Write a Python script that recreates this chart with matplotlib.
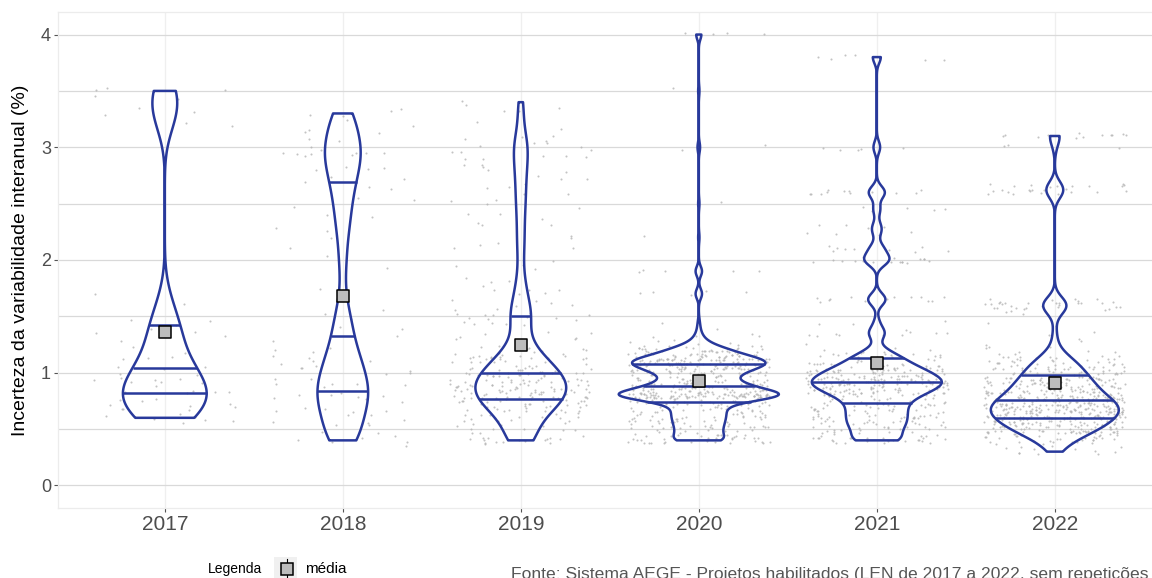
import matplotlib
matplotlib.use("Agg")
import matplotlib.pyplot as plt
import numpy as np
from matplotlib.lines import Line2D
from matplotlib.patches import Polygon, Rectangle

plt.rcParams["font.family"] = ["Liberation Sans", "DejaVu Sans"]

years = ["2017", "2018", "2019", "2020", "2021", "2022"]

# uncertainty values (%) and number of projects at each value, per year
vals_2017 = [0.6, 0.7, 0.8, 0.9, 1.0, 1.1, 1.2, 1.3, 1.4, 1.5, 1.6, 1.7,
             3.2, 3.3, 3.4, 3.5]
cnts_2017 = [7, 7, 8, 7, 5, 4, 2, 3, 3, 2, 1, 1,
             2, 2, 2, 4]

vals_2018 = [0.4, 0.5, 0.6, 0.7, 0.8, 0.9, 1.0, 1.1, 1.2, 1.3, 1.4, 1.5, 1.6, 1.7,
             1.9, 2.0, 2.1, 2.2, 2.3, 2.4, 2.5, 2.6, 2.7, 2.8, 2.9, 3.0, 3.1, 3.2, 3.3]
cnts_2018 = [6, 4, 5, 6, 7, 7, 5, 5, 4, 2, 3, 2, 1, 1,
             1, 1, 1, 1, 2, 2, 2, 3, 3, 4, 5, 5, 4, 3, 4]

vals_2019 = [0.4, 0.5, 0.6, 0.7, 0.8, 0.9, 1.0, 1.1, 1.2, 1.3, 1.4, 1.5, 1.6, 1.7,
             1.8, 1.9, 2.0, 2.1, 2.2, 2.3, 2.4, 2.5, 2.6, 2.7, 2.8, 2.9, 3.0, 3.1,
             3.2, 3.3, 3.4]
cnts_2019 = [16, 11, 16, 30, 38, 40, 32, 23, 13, 6, 6, 11, 7, 5,
             4, 2, 2, 3, 3, 3, 3, 4, 4, 4, 5, 5, 7, 4,
             2, 2, 3]

vals_2020 = [0.40, 0.45, 0.50, 0.55, 0.60, 0.65, 0.70, 0.75, 0.80, 0.85, 0.90,
             0.95, 1.00, 1.05, 1.10, 1.15, 1.20, 1.25, 1.30, 1.35, 1.40, 1.45,
             1.70, 1.90, 2.20, 2.50, 3.00, 3.50, 4.00]
cnts_2020 = [25, 15, 17, 18, 19, 20, 17, 31, 80, 43, 34,
             22, 32, 43, 58, 32, 25, 9, 4, 2, 1, 1,
             5, 5, 1, 1, 2, 1, 4]

vals_2021 = [0.40, 0.45, 0.50, 0.55, 0.60, 0.65, 0.70, 0.75, 0.80, 0.85, 0.90,
             0.95, 1.00, 1.05, 1.10, 1.15, 1.20, 1.25, 1.35, 1.45, 1.65, 2.00,
             2.10, 2.25, 2.30, 2.45, 2.60, 3.00, 3.80]
cnts_2021 = [22, 10, 15, 17, 17, 17, 17, 17, 26, 31, 41,
             36, 31, 24, 16, 15, 5, 1, 11, 3, 13, 17,
             9, 4, 4, 5, 12, 5, 6]

vals_2022 = [0.30, 0.35, 0.40, 0.45, 0.50, 0.55, 0.60, 0.65, 0.70, 0.75, 0.80,
             0.85, 0.90, 0.95, 1.00, 1.05, 1.10, 1.15, 1.20, 1.25, 1.30, 1.35,
             1.40, 1.45, 1.55, 1.60, 1.65, 2.60, 2.65, 3.00, 3.10]
cnts_2022 = [7, 8, 16, 27, 37, 44, 49, 55, 54, 49, 40,
             36, 33, 29, 25, 22, 18, 11, 5, 2, 2, 2,
             1, 1, 8, 22, 5, 14, 11, 3, 12]

values = [vals_2017, vals_2018, vals_2019, vals_2020, vals_2021, vals_2022]
counts = [cnts_2017, cnts_2018, cnts_2019, cnts_2020, cnts_2021, cnts_2022]

# kernel bandwidth per year and vertical jitter of the raw points
bandwidth = [0.18, 0.15, 0.12, 0.045, 0.055, 0.07]
jitter_y = [0.05, 0.05, 0.05, 0.025, 0.025, 0.025]

VIOLIN = "#28399b"


def kde(vals, cnts, bw, grid):
    v = np.asarray(vals, float)[:, None]
    c = np.asarray(cnts, float)[:, None]
    z = (grid[None, :] - v) / bw
    return (c * np.exp(-0.5 * z ** 2)).sum(axis=0) / (c.sum() * bw * np.sqrt(2 * np.pi))


fig = plt.figure(figsize=(11.52, 5.78), dpi=100)
ax = fig.add_axes([58 / 1152, 70 / 578, 1103.6 / 1152, 496 / 578])

ax.set_xlim(0.4, 6.6)
ax.set_ylim(-0.2, 4.2)
ax.set_yticks([0, 1, 2, 3, 4])
ax.set_yticks([0.5, 1.5, 2.5, 3.5], minor=True)
ax.set_xticks(range(1, 7))
ax.set_xticklabels(years)
ax.grid(axis="y", which="both", color="#d9d9d9", lw=0.9)
ax.grid(axis="x", which="major", color="#efefef", lw=0.9)
ax.set_axisbelow(True)
for s in ax.spines.values():
    s.set_color("#ececec")
    s.set_linewidth(0.9)
ax.tick_params(axis="both", which="major", length=3, width=0.8, color="#555555",
               labelcolor="#4d4d4d", pad=2)
ax.tick_params(axis="x", labelsize=15)
ax.tick_params(axis="y", labelsize=13)
ax.tick_params(axis="y", which="minor", length=0)
ax.set_ylabel("Incerteza da variabilidade interanual (%)", fontsize=14, color="black")
ax.yaxis.set_label_coords(-0.0263, 0.5)

# densities, trimmed to the range of each year
grids, dens = [], []
for vals, cnts, bw in zip(values, counts, bandwidth):
    g = np.linspace(min(vals), max(vals), 512)
    grids.append(g)
    dens.append(kde(vals, cnts, bw, g))
dmax = max(d.max() for d in dens)

rng = np.random.default_rng(21)
for i, (vals, cnts) in enumerate(zip(values, counts)):
    pos = i + 1
    pts = np.repeat(vals, cnts)
    px = pos + rng.uniform(-0.4, 0.4, pts.size)
    py = pts + rng.uniform(-jitter_y[i], jitter_y[i], pts.size)
    ax.scatter(px, py, s=2.2, color="#b4b4b4", lw=0, alpha=0.8, zorder=2)

for i, (g, d) in enumerate(zip(grids, dens)):
    pos = i + 1
    hw = 0.45 * d / dmax
    xs = np.concatenate([pos - hw, (pos + hw)[::-1]])
    ys = np.concatenate([g, g[::-1]])
    ax.add_patch(Polygon(np.column_stack([xs, ys]), closed=True, fill=False,
                         edgecolor=VIOLIN, lw=1.8, joinstyle="round", zorder=3))
    cdf = np.cumsum(d) / d.sum()
    qy = np.interp([0.25, 0.5, 0.75], cdf, g)
    qw = np.interp(qy, g, hw)
    ax.hlines(qy, pos - qw, pos + qw, color=VIOLIN, lw=1.8, zorder=3)

means = [np.average(v, weights=c) for v, c in zip(values, counts)]
ax.scatter(range(1, 7), means, marker="s", s=80, facecolor="#bdbdbd",
           edgecolor="black", linewidth=1.1, zorder=5)

# legend row and source line under the panel
fig.text(208 / 1152, 1 - 569 / 578, "Legenda", fontsize=10, va="center", ha="left")
fig.add_artist(Rectangle((274 / 1152, 0), 23 / 1152, 21 / 578, transform=fig.transFigure,
                         facecolor="#f0f0f0", edgecolor="none"))
fig.add_artist(Line2D([287 / 1152, 287 / 1152], [1 - 559 / 578, 1 - 580 / 578],
                      transform=fig.transFigure, color="black", lw=0.8))
fig.add_artist(Line2D([287 / 1152], [1 - 569 / 578], transform=fig.transFigure,
                      marker="s", markersize=8.5, markerfacecolor="#bdbdbd",
                      markeredgecolor="black", markeredgewidth=1.1, lw=0))
fig.text(305 / 1152, 1 - 569 / 578, "média", fontsize=11, va="center", ha="left")
fig.text(511 / 1152, -1 / 578,
         "Fonte: Sistema AEGE - Projetos habilitados (LEN de 2017 a 2022, sem repetições",
         fontsize=12.6, color="#555555", va="baseline", ha="left")

fig.savefig("out.png", dpi=100, facecolor="white")
